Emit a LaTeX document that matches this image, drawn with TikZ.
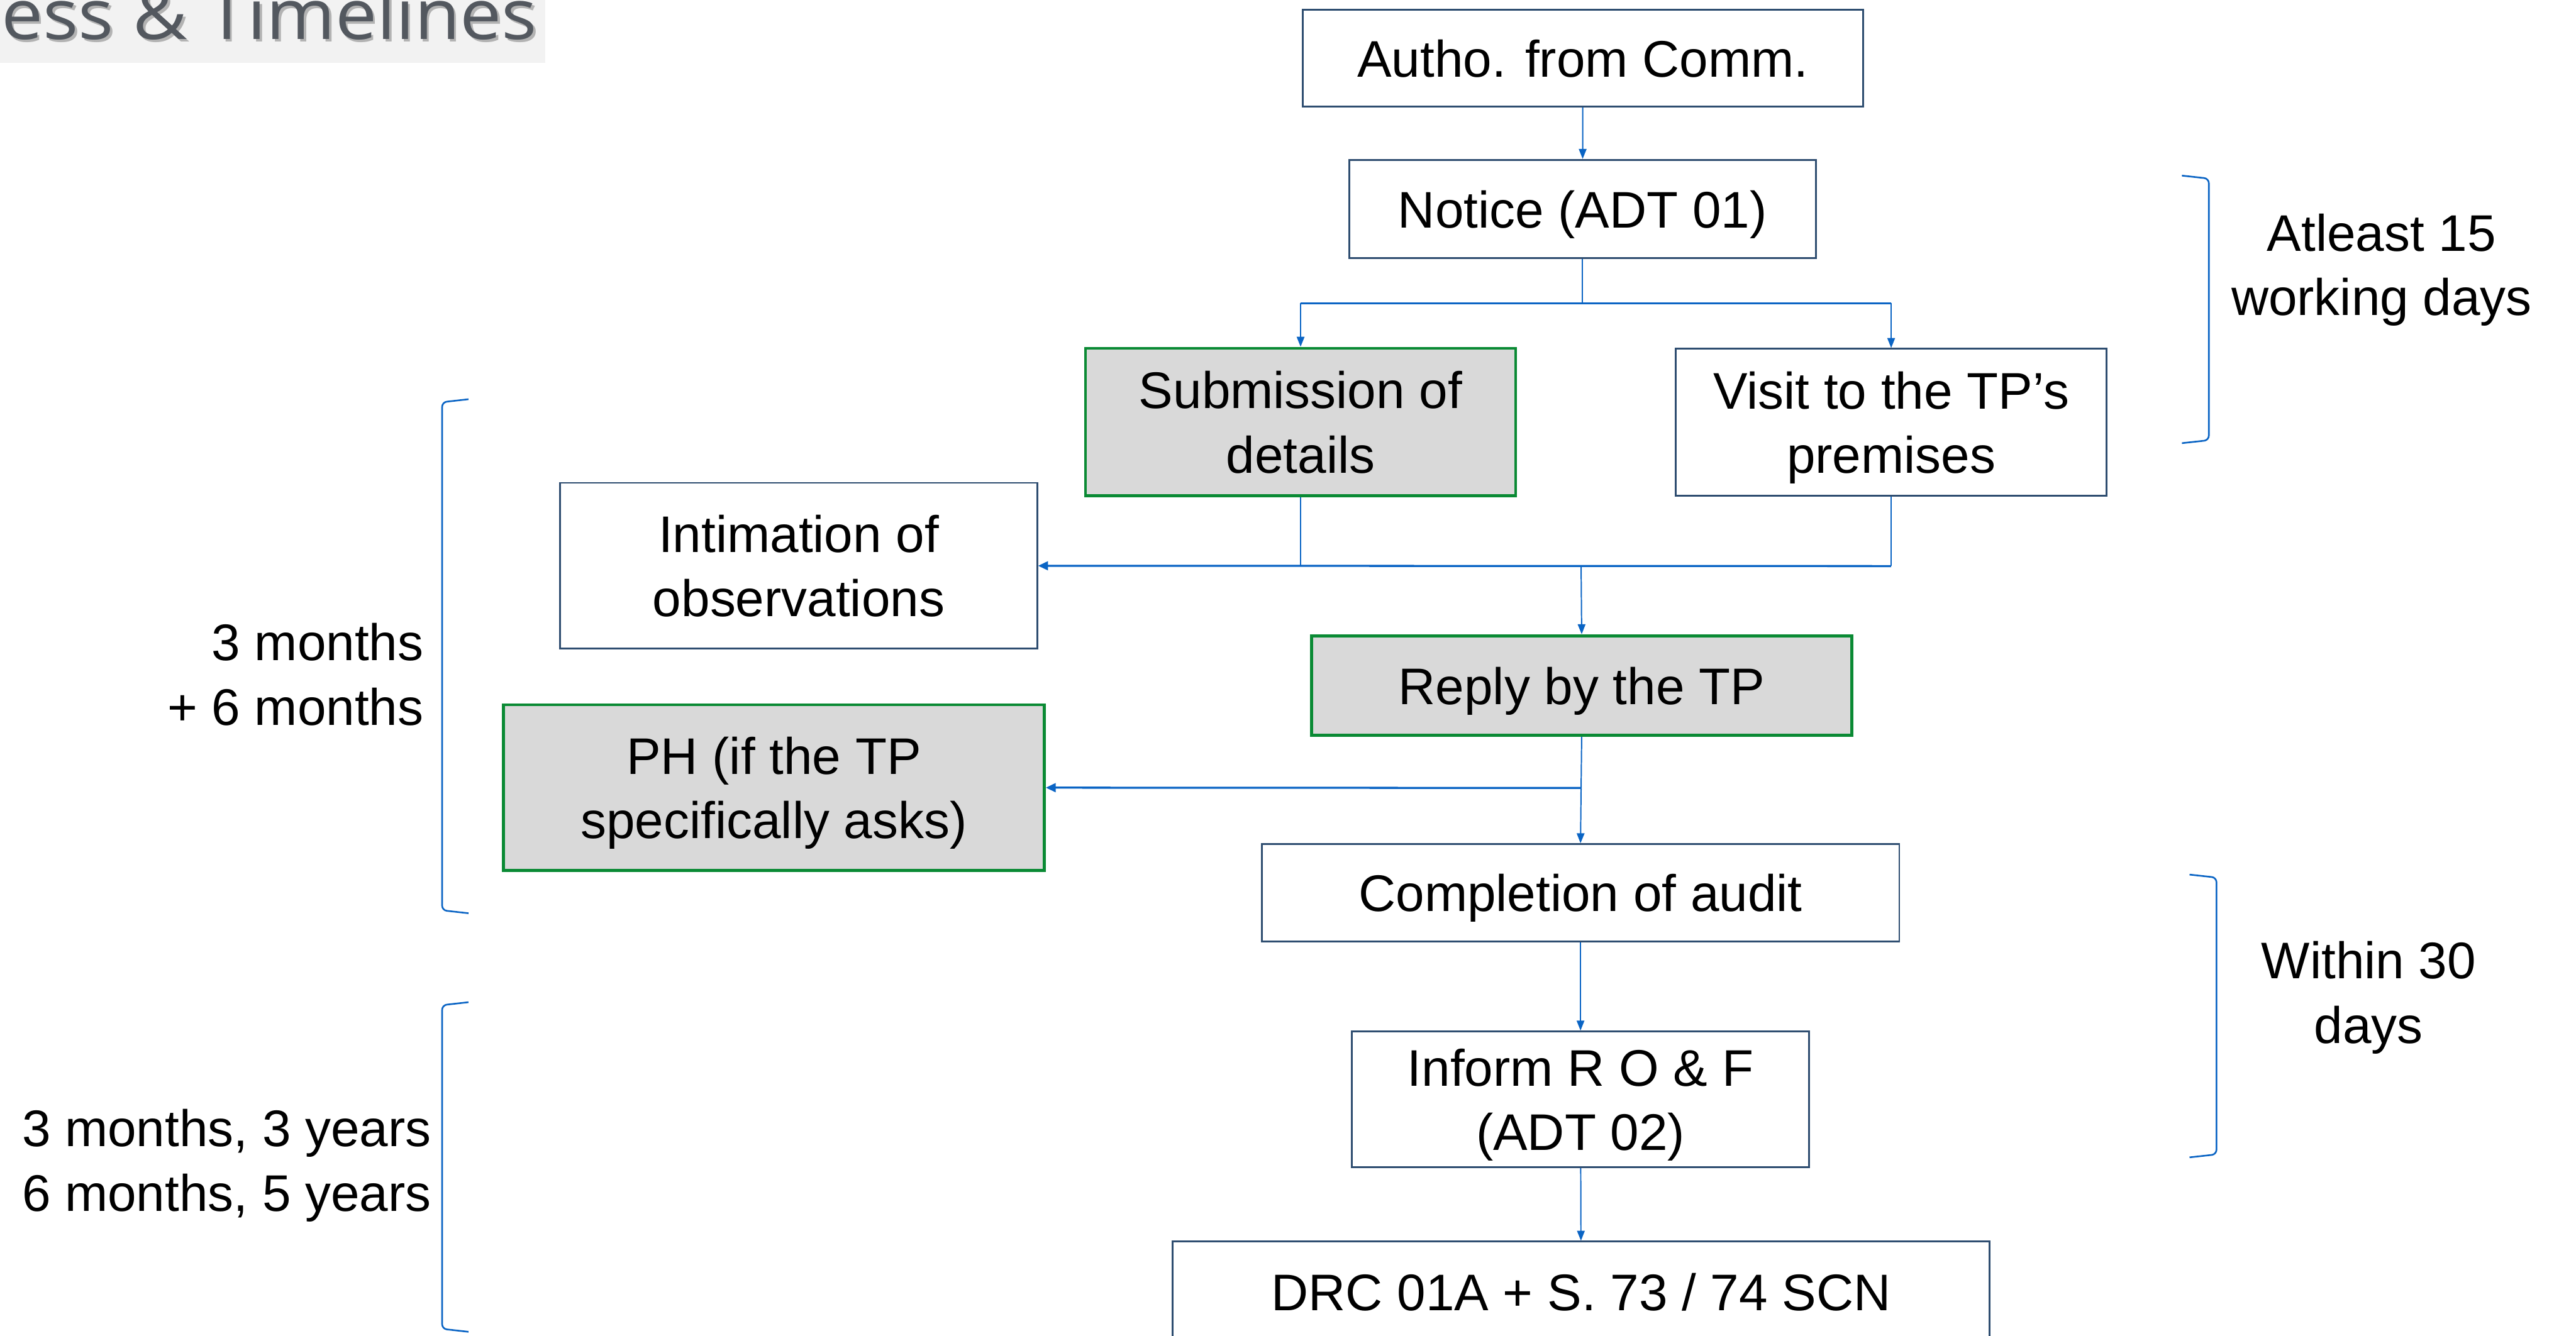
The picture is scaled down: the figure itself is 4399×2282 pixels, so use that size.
\documentclass[tikz,border=0pt]{standalone}
\usepackage{fontspec}
\setmainfont{Liberation Sans}
\newfontfamily\titlefont{Open Sans}
\usetikzlibrary{arrows.meta}
\definecolor{boxline}{HTML}{2E4D70}
\definecolor{conn}{HTML}{0A64C4}
\definecolor{grn}{HTML}{0A8A34}
\definecolor{gfill}{HTML}{D9D9D9}
\definecolor{titlegray}{HTML}{53585F}
\definecolor{titlebg}{HTML}{F2F2F2}
\tikzset{
  plainbox/.style={draw=boxline, line width=0.85pt, fill=white, align=center, inner sep=0pt,
    text depth=-0.1cm, font=\fontsize{25}{31.3}\selectfont},
  greenbox/.style={draw=grn, line width=1.45pt, fill=gfill, align=center, inner sep=0pt,
    text depth=-0.1cm, font=\fontsize{25}{31.3}\selectfont},
  sidelabel/.style={inner sep=0pt, font=\fontsize{25}{31.3}\selectfont},
  arr/.style={draw=conn, line width=0.6pt, -{Triangle[length=0.17cm,width=0.13cm]}},
  conline/.style={draw=conn, line width=0.6pt},
  branch/.style={draw=conn, line width=1pt},
  brk/.style={draw=conn, line width=0.8pt, rounded corners=0.08cm},
  titletext/.style={anchor=base east, inner sep=0pt, xscale=1.06,
    font=\titlefont\fontsize{34}{38}\selectfont},
}
\begin{document}
\begin{tikzpicture}[x=0.01cm, y=-0.01cm]
\useasboundingbox (0,0) rectangle (4399,2282);
% title
\fill[titlebg] (0,0) rectangle (931,107);
\node[titletext, text=black!50, opacity=0.55] (titleshadow) at (922,71) {ess \& Timelines};
\node[titletext, text=titlegray] (title) at (918,67) {ess \& Timelines};

% boxes
\node[plainbox, minimum width=9.56cm, minimum height=1.65cm] (autho) at (2703,99.5) {Autho. from Comm.};
\node[plainbox, minimum width=7.97cm, minimum height=1.68cm] (notice) at (2702.5,357) {Notice (ADT 01)};
\node[greenbox, minimum width=7.34cm, minimum height=2.52cm] (sub) at (2221,721) {Submission of\\details};
\node[plainbox, minimum width=7.35cm, minimum height=2.51cm] (visit) at (3229.5,721.5) {Visit to the TP’s\\premises};
\node[plainbox, minimum width=8.14cm, minimum height=2.83cm] (intim) at (1364,966.5) {Intimation of\\observations};
\node[greenbox, minimum width=9.22cm, minimum height=1.70cm] (reply) at (2701,1171) {Reply by the TP};
\node[greenbox, minimum width=9.23cm, minimum height=2.83cm] (ph) at (1321.5,1345.5) {PH (if the TP\\specifically asks)};
\node[plainbox, minimum width=10.88cm, minimum height=1.66cm] (comp) at (2699,1525) {Completion of audit};
\node[plainbox, minimum width=7.80cm, minimum height=2.32cm] (inform) at (2699,1878) {Inform R O \& F\\(ADT 02)};
\node[plainbox, minimum width=13.94cm, minimum height=1.72cm] (drc) at (2700,2207) {DRC 01A + S. 73 / 74 SCN};

% junctions
\coordinate (j1) at (2702.5,518);
\coordinate (j2) at (2700,967);
\coordinate (j3) at (2700,1346);

% connectors
\draw[arr] (autho) -- (notice);
\draw[conline] (notice.south) -- (j1);
\draw[branch] (sub.north |- j1) -- (visit.north |- j1);
\draw[arr] (sub.north |- j1) -- (sub.north);
\draw[arr] (visit.north |- j1) -- (visit.north);
\draw[conline] (sub.south) -- (sub.south |- j2);
\draw[conline] (visit.south) -- (visit.south |- j2);
\draw[branch, -{Triangle[length=0.17cm,width=0.15cm]}] (visit.south |- j2) -- (intim.east);
\draw[arr] (j2) -- (reply.north);
\draw[conline] (reply.south) -- (j3);
\draw[branch, -{Triangle[length=0.17cm,width=0.15cm]}] (j3) -- (ph.east);
\draw[arr] (j3) -- (comp.north);
\draw[arr] (comp) -- (inform);
\draw[arr] (inform) -- (drc);

% brackets
\draw[brk] (3726,300) -- (3772,305) -- (3772,752) -- (3726,757);
\draw[brk] (3739,1494) -- (3785,1499) -- (3785,1972) -- (3739,1977);
\draw[brk] (800,682) -- (755,687) -- (755,1555) -- (800,1560);
\draw[brk] (800,1712) -- (755,1717) -- (755,2270) -- (800,2275);

% side labels
\node[sidelabel, align=center] (lab15) at (4067,461) {Atleast 15\\working days};
\node[sidelabel, align=center] (lab30) at (4045,1704) {Within 30\\days};
\node[sidelabel, align=right, anchor=east] (labm) at (724,1152) {3 months\\+ 6 months};
\node[sidelabel, align=left, anchor=west] (laby) at (37,1991) {3 months, 3 years\\6 months, 5 years};
\end{tikzpicture}
\end{document}
